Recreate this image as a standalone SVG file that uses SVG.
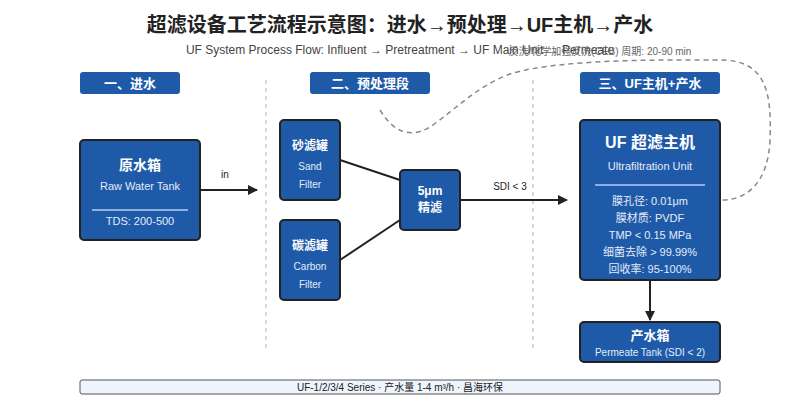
<svg xmlns="http://www.w3.org/2000/svg" width="800" height="400" viewBox="0 0 800 400">
<defs>
<marker id="arr" markerWidth="10" markerHeight="10" refX="9" refY="5" orient="auto" markerUnits="userSpaceOnUse">
<path d="M0,0 L10,5 L0,10 z" fill="#222"/>
</marker>
<style>
.t{font-family:"Liberation Sans","Noto Sans CJK SC",sans-serif;}
.box{fill:#1f5aa8;stroke:#222;stroke-width:2;}
.hdr{fill:#1f5aa8;}
.w{fill:#fff;text-anchor:middle;}
.wl{fill:#e3ecf8;text-anchor:middle;}
.b{font-weight:bold;}
.sep{stroke:#ccc;stroke-width:1.5;stroke-dasharray:4,4;}
.div{stroke:#8fb0dd;stroke-width:2;}
.edge{stroke:#222;stroke-width:2;fill:none;}
</style>
</defs>
<rect width="800" height="400" fill="#fff"/>
<text class="t b" x="400" y="32" text-anchor="middle" font-size="20" fill="#222">超滤设备工艺流程示意图：进水→预处理→UF主机→产水</text>
<text class="t" x="400" y="54" text-anchor="middle" font-size="12" fill="#444">UF System Process Flow: Influent → Pretreatment → UF Main Unit → Permeate</text>
<text class="t" x="600" y="55" text-anchor="middle" font-size="10" fill="#666">反洗/化学加强反洗(CEB) 周期: 20-90 min</text>

<line class="sep" x1="266" y1="80" x2="266" y2="350"/>
<line class="sep" x1="533" y1="80" x2="533" y2="350"/>

<g id="hdr1"><rect class="hdr" x="80" y="72" width="100" height="22" rx="3"/><text class="t w b" x="130" y="88" font-size="13">一、进水</text></g>
<g id="hdr2"><rect class="hdr" x="310" y="72" width="120" height="22" rx="3"/><text class="t w b" x="370" y="88" font-size="13">二、预处理段</text></g>
<g id="hdr3"><rect class="hdr" x="580" y="72" width="140" height="22" rx="3"/><text class="t w b" x="650" y="88" font-size="13">三、UF主机+产水</text></g>

<g id="connectors">
<line class="edge" x1="200" y1="190" x2="257" y2="190" marker-end="url(#arr)"/>
<text class="t" x="225" y="178" text-anchor="middle" font-size="10" fill="#222">in</text>
<line class="edge" x1="340" y1="160" x2="400" y2="180"/>
<line class="edge" x1="340" y1="260" x2="400" y2="220"/>
<line class="edge" x1="460" y1="200" x2="567" y2="200" marker-end="url(#arr)"/>
<text class="t" x="510" y="190" text-anchor="middle" font-size="10" fill="#222">SDI &lt; 3</text>
<line class="edge" x1="650" y1="280" x2="650" y2="320" marker-end="url(#arr)"/>
<path d="M380,110 C395,135 415,140 437,122 C460,105 480,85 510,74 C560,58 680,60 720,60 C765,60 772,90 770,140 C768,185 745,200 722,200" fill="none" stroke="#888" stroke-width="1.5" stroke-dasharray="5,4"/>
</g>

<g id="raw">
<rect class="box" x="80" y="140" width="120" height="100" rx="4"/>
<text class="t w b" x="140" y="170" font-size="14">原水箱</text>
<text class="t wl" x="140" y="190" font-size="11">Raw Water Tank</text>
<line class="div" x1="92" y1="210" x2="188" y2="210"/>
<text class="t wl" x="140" y="225" font-size="11">TDS: 200-500</text>
</g>

<g id="sand">
<rect class="box" x="280" y="120" width="60" height="80" rx="4"/>
<text class="t w b" x="310" y="150" font-size="12">砂滤罐</text>
<text class="t wl" x="310" y="170" font-size="10">Sand</text>
<text class="t wl" x="310" y="188" font-size="10">Filter</text>
</g>

<g id="carbon">
<rect class="box" x="280" y="220" width="60" height="80" rx="4"/>
<text class="t w b" x="310" y="250" font-size="12">碳滤罐</text>
<text class="t wl" x="310" y="270" font-size="10">Carbon</text>
<text class="t wl" x="310" y="288" font-size="10">Filter</text>
</g>

<g id="fine">
<rect class="box" x="400" y="170" width="60" height="60" rx="4"/>
<text class="t w b" x="430" y="195" font-size="12">5μm</text>
<text class="t w b" x="430" y="212" font-size="12">精滤</text>
</g>

<g id="uf">
<rect class="box" x="580" y="120" width="140" height="160" rx="4" stroke-width="2.5"/>
<text class="t w b" x="650" y="148" font-size="16">UF 超滤主机</text>
<text class="t wl" x="650" y="170" font-size="11">Ultrafiltration Unit</text>
<line class="div" x1="595" y1="185" x2="705" y2="185"/>
<text class="t wl" x="650" y="205" font-size="11">膜孔径: 0.01μm</text>
<text class="t wl" x="650" y="222" font-size="11">膜材质: PVDF</text>
<text class="t wl" x="650" y="239" font-size="11">TMP &lt; 0.15 MPa</text>
<text class="t wl" x="650" y="256" font-size="11">细菌去除 &gt; 99.99%</text>
<text class="t wl" x="650" y="273" font-size="11">回收率: 95-100%</text>
</g>

<g id="permeate">
<rect class="box" x="580" y="322" width="140" height="40" rx="4"/>
<text class="t w b" x="650" y="340" font-size="13">产水箱</text>
<text class="t wl" x="650" y="356" font-size="10">Permeate Tank (SDI &lt; 2)</text>
</g>

<g id="footer">
<rect x="80" y="380" width="640" height="14" rx="2" fill="#eef5fd" stroke="#555" stroke-width="1"/>
<text class="t" x="400" y="390.5" text-anchor="middle" font-size="10" fill="#222">UF-1/2/3/4 Series · 产水量 1-4 m³/h · 昌海环保</text>
</g>
</svg>
